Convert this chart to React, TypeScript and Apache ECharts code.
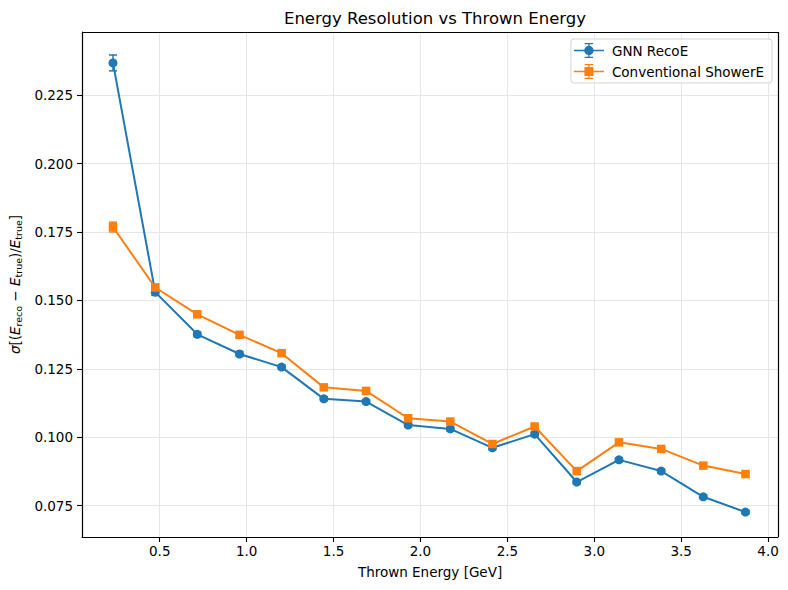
import React, { useEffect, useRef } from "react";
import * as echarts from "echarts";

const energies = [0.231, 0.474, 0.716, 0.959, 1.201, 1.444, 1.687, 1.929, 2.172, 2.414, 2.657, 2.899, 3.142, 3.385, 3.627, 3.87];
const gnnRes = [0.2368, 0.153, 0.1376, 0.1304, 0.1256, 0.114, 0.113, 0.1044, 0.103, 0.0961, 0.1011, 0.0836, 0.0917, 0.0876, 0.0782, 0.0726];
const gnnErr = [0.0029, 0.0012, 0.0009, 0.0009, 0.0008, 0.0007, 0.0007, 0.0007, 0.0007, 0.0007, 0.0007, 0.0007, 0.0007, 0.0007, 0.0007, 0.0007];
const convRes = [0.1768, 0.1547, 0.1449, 0.1374, 0.1307, 0.1182, 0.1169, 0.1069, 0.1057, 0.0975, 0.1039, 0.0876, 0.0981, 0.0957, 0.0896, 0.0865];
const convErr = [0.0018, 0.0012, 0.0009, 0.0009, 0.0008, 0.0007, 0.0007, 0.0007, 0.0007, 0.0007, 0.0007, 0.0007, 0.0007, 0.0007, 0.0007, 0.0007];
const xTicks = [0.5, 1.0, 1.5, 2.0, 2.5, 3.0, 3.5, 4.0];
const yTicks = [0.075, 0.1, 0.125, 0.15, 0.175, 0.2, 0.225];

const BLUE = "#1f77b4";
const ORANGE = "#ff7f0e";
const FONT = "DejaVu Sans";

const circleIcon =
  "path://M0 6.3H28V7.7H0Z M13.4 0H14.6V14H13.4Z M10 0H18V1.2H10Z M10 12.8H18V14H10Z M18.4 7A4.4 4.4 0 1 1 9.6 7A4.4 4.4 0 1 1 18.4 7Z";
const squareIcon =
  "path://M0 6.3H28V7.7H0Z M13.4 0H14.6V14H13.4Z M10 0H18V1.2H10Z M10 12.8H18V14H10Z M9.8 2.8H18.2V11.2H9.8Z";

function errorSeries(name: string, vals: number[], errs: number[], color: string) {
  return {
    type: "custom",
    name: name + " err",
    silent: true,
    z: 3,
    data: energies.map((x, i) => [x, vals[i] - errs[i], vals[i] + errs[i]]),
    renderItem: (params: any, api: any) => {
      const lo = api.coord([api.value(0), api.value(1)]);
      const hi = api.coord([api.value(0), api.value(2)]);
      const w = 4;
      const style = { stroke: color, lineWidth: 1.5 };
      return {
        type: "group",
        children: [
          { type: "line", shape: { x1: lo[0], y1: lo[1], x2: hi[0], y2: hi[1] }, style },
          { type: "line", shape: { x1: lo[0] - w, y1: lo[1], x2: lo[0] + w, y2: lo[1] }, style },
          { type: "line", shape: { x1: hi[0] - w, y1: hi[1], x2: hi[0] + w, y2: hi[1] }, style },
        ],
      };
    },
  };
}

export default function App() {
  const ref = useRef<HTMLDivElement>(null);
  useEffect(() => {
    if (!ref.current) return;
    const chart = echarts.init(ref.current, null, { renderer: "svg" });
    chart.setOption({
      animation: false,
      backgroundColor: "#ffffff",
      textStyle: { fontFamily: FONT },
      title: {
        text: "Energy Resolution vs Thrown Energy",
        left: 430,
        textAlign: "center",
        top: 5,
        textStyle: { fontFamily: FONT, fontSize: 16.5, fontWeight: "normal", color: "#000" },
      },
      legend: {
        orient: "vertical",
        right: 16,
        top: 39,
        padding: [4, 8, 4, 3],
        itemGap: 6,
        itemWidth: 32,
        itemHeight: 15,
        borderColor: "#d5d5d5",
        borderWidth: 1,
        borderRadius: 3,
        backgroundColor: "rgba(255,255,255,0.8)",
        textStyle: { fontFamily: FONT, fontSize: 13.5, color: "#000", padding: [0, 0, 0, 2] },
        data: [
          { name: "GNN RecoE", icon: circleIcon },
          { name: "Conventional ShowerE", icon: squareIcon },
        ],
      },
      grid: { left: 82, right: 10, top: 32, bottom: 53, containLabel: false },
      xAxis: {
        type: "value",
        min: 0.053,
        max: 4.057,
        name: "Thrown Energy [GeV]",
        nameLocation: "middle",
        nameGap: 28,
        nameTextStyle: { fontFamily: FONT, fontSize: 13.5, color: "#000" },
        axisLine: { show: true, onZero: false, lineStyle: { color: "#000", width: 1.2 } },
        axisTick: { show: true, inside: false, length: 5, customValues: xTicks, lineStyle: { color: "#000", width: 1.1 } },
        axisLabel: {
          customValues: xTicks,
          margin: 7,
          fontFamily: FONT,
          fontSize: 13.5,
          color: "#000",
          formatter: (v: number) => v.toFixed(1),
        },
        splitLine: { show: true, lineStyle: { color: "#e6e6e6", width: 1 } },
      },
      yAxis: {
        type: "value",
        min: 0.0635,
        max: 0.2481,
        name:
          "{it|σ}[({it|E}{sub|reco} − {it|E}{sub|true})/{it|E}{sub|true}]",
        nameLocation: "middle",
        nameRotate: 90,
        nameGap: 56,
        nameTextStyle: {
          fontFamily: FONT,
          fontSize: 13.5,
          color: "#000",
          rich: {
            it: { fontFamily: FONT, fontSize: 13.5, fontStyle: "italic", color: "#000" },
            sub: { fontFamily: FONT, fontSize: 9.5, color: "#000", padding: [7, 0, 0, 0] },
          },
        },
        axisLine: { show: true, onZero: false, lineStyle: { color: "#000", width: 1.2 } },
        axisTick: { show: true, inside: false, length: 5, customValues: yTicks, lineStyle: { color: "#000", width: 1.1 } },
        axisLabel: {
          customValues: yTicks,
          margin: 9,
          fontFamily: FONT,
          fontSize: 13.5,
          color: "#000",
          formatter: (v: number) => v.toFixed(3),
        },
        splitLine: { show: true, lineStyle: { color: "#e6e6e6", width: 1 } },
      },
      series: [
        {
          type: "line",
          name: "GNN RecoE",
          data: energies.map((x, i) => [x, gnnRes[i]]),
          color: BLUE,
          symbol: "circle",
          symbolSize: 9,
          lineStyle: { width: 2, color: BLUE },
          itemStyle: { color: BLUE },
          z: 4,
        },
        errorSeries("GNN RecoE", gnnRes, gnnErr, BLUE),
        {
          type: "line",
          name: "Conventional ShowerE",
          data: energies.map((x, i) => [x, convRes[i]]),
          color: ORANGE,
          symbol: "rect",
          symbolSize: 8.5,
          lineStyle: { width: 2, color: ORANGE },
          itemStyle: { color: ORANGE },
          z: 5,
        },
        errorSeries("Conventional ShowerE", convRes, convErr, ORANGE),
        {
          type: "line",
          name: "frame",
          data: [],
          silent: true,
          markLine: {
            silent: true,
            symbol: "none",
            label: { show: false },
            lineStyle: { color: "#000", width: 1.2, type: "solid" },
            data: [[{ coord: [0.053, 0.2481] }, { coord: [4.057, 0.2481] }], [{ coord: [4.057, 0.0635] }, { coord: [4.057, 0.2481] }]],
          },
        },
      ],
    });
    return () => chart.dispose();
  }, []);
  return <div ref={ref} style={{ width: 788, height: 590, margin: -8 }} />;
}
